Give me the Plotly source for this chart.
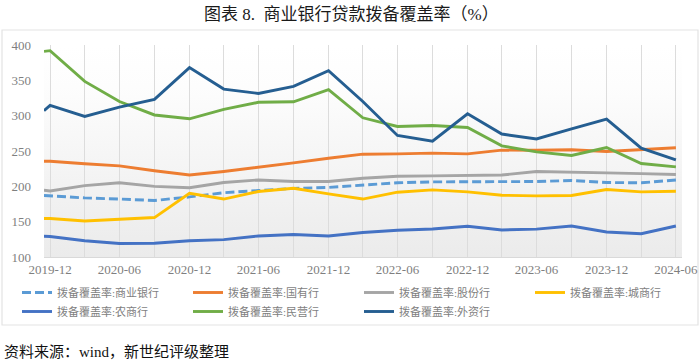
import base64
import plotly.graph_objects as go

dates = ["2019-12-15", "2019-12-31", "2020-03-31", "2020-06-30", "2020-09-30", "2020-12-31",
         "2021-03-31", "2021-06-30", "2021-09-30", "2021-12-31", "2022-03-31", "2022-06-30",
         "2022-09-30", "2022-12-31", "2023-03-31", "2023-06-30", "2023-09-30", "2023-12-31",
         "2024-03-31", "2024-06-30"]

s_commercial = [187, 186.5, 183.6, 182, 180, 185, 191, 194, 197, 198.5, 202, 205, 206.3, 206.3, 205.8, 206.8, 208.2, 205.4, 205, 209]
s_state = [235.6, 235.5, 232, 229, 222, 216, 221, 226.6, 233.2, 239.8, 245.5, 246, 247, 246, 251.2, 251, 251.7, 249.3, 251.7, 254.5]
s_joint = [194.5, 193.5, 201, 205, 200, 198, 205.4, 209, 206.8, 206.8, 211.5, 214.3, 214.8, 215.3, 216, 221, 219.5, 219, 218, 216.7]
s_city = [154.4, 154.4, 151, 153.4, 155.8, 190, 182, 192.6, 197.3, 189.3, 182, 191.7, 195, 192.1, 187.4, 186.5, 187, 195.5, 192.1, 193]
s_rural = [129.3, 129, 123, 119, 119.4, 123, 124.6, 129.8, 131.8, 129.8, 134.6, 137.8, 139.7, 143.5, 138.3, 139.5, 143.9, 135.4, 133, 143.9]
s_private = [391, 392, 348.5, 320, 301, 295.6, 309, 319, 319.7, 336.7, 297, 284.7, 286, 283.3, 257.3, 248.8, 243.6, 255, 232.3, 227.6]
s_foreign = [307, 314.5, 299, 312, 323, 368, 337.6, 331.5, 341.5, 363.6, 320, 272, 264, 302.7, 274, 267, 281.4, 295, 254, 237.5]

names = ["拨备覆盖率:商业银行", "拨备覆盖率:国有行", "拨备覆盖率:股份行", "拨备覆盖率:城商行",
         "拨备覆盖率:农商行", "拨备覆盖率:民营行", "拨备覆盖率:外资行"]
series = [s_commercial, s_state, s_joint, s_city, s_rural, s_private, s_foreign]
colors = ["#5B9BD5", "#ED7D31", "#A5A5A5", "#FFC000", "#4472C4", "#70AD47", "#255E91"]
dashes = ["9px,4px", "solid", "solid", "solid", "solid", "solid", "solid"]

tick_dates = dates[1:]
tick_labels = ["2019-12", "", "2020-06", "", "2020-12", "", "2021-06", "", "2021-12", "",
               "2022-06", "", "2022-12", "", "2023-06", "", "2023-12", "", "2024-06"]
y_ticks = [100, 150, 200, 250, 300, 350, 400]

title_text = "图表 8.  商业银行贷款拨备覆盖率（%）"
source_text = "资料来源：wind，新世纪评级整理"

fig = go.Figure()
for name, vals, col, dsh in zip(names, series, colors, dashes):
    fig.add_trace(go.Scatter(x=dates, y=vals, name=name, mode="lines",
                             line=dict(color=col, width=2.9, dash=dsh)))

W, H = 700, 361
ml, mr, mt, mb = 44, 18, 45, 104
pw, ph = W - ml - mr, H - mt - mb

def px(x):
    return (x - ml) / pw

def py(y):
    return (H - mb - y) / ph

svg = ('<svg xmlns="http://www.w3.org/2000/svg" width="10" height="100" viewBox="0 0 10 100" '
       'preserveAspectRatio="none"><defs><linearGradient id="g" x1="0" y1="0" x2="0" y2="1">'
       '<stop offset="0" stop-color="#ffffff"/><stop offset="0.2" stop-color="#fdfdfd"/>'
       '<stop offset="1" stop-color="#ebebeb"/></linearGradient></defs>'
       '<rect width="10" height="100" fill="url(#g)"/></svg>')
src = "data:image/svg+xml;base64," + base64.b64encode(svg.encode()).decode()

serif = "Liberation Serif, Noto Sans CJK SC"

fig.update_layout(
    width=W, height=H,
    margin=dict(l=ml, r=mr, t=mt, b=mb, autoexpand=False),
    paper_bgcolor="white",
    plot_bgcolor="rgba(0,0,0,0)",
    showlegend=True,
    images=[dict(source=src, xref="x domain", yref="y domain", x=0, y=1, sizex=1, sizey=1,
                 xanchor="left", yanchor="top", sizing="stretch", layer="below")],
    shapes=[dict(type="rect", xref="paper", yref="paper", x0=px(2), x1=px(698), y0=py(325), y1=py(30),
                 line=dict(color="#e3e3e3", width=1.2), fillcolor="rgba(0,0,0,0)", layer="below")],
    annotations=[
        dict(text=title_text, xref="paper", yref="paper", x=px(351), y=py(14), xanchor="center",
             yanchor="middle", showarrow=False, font=dict(family=serif, size=17, color="#1a1a1a")),
        dict(text=source_text, xref="paper", yref="paper", x=px(2), y=py(352), xanchor="left",
             yanchor="middle", showarrow=False, font=dict(family=serif, size=15, color="#111111")),
    ],
    legend=dict(orientation="h", x=px(17), y=py(278), xanchor="left", yanchor="top",
                font=dict(family=serif, size=11, color="#7f7f7f"),
                entrywidth=126, entrywidthmode="pixels", itemwidth=30, tracegroupgap=0,
                bgcolor="rgba(0,0,0,0)"),
    xaxis=dict(type="date", range=["2019-12-15", "2024-07-16"], tickmode="array",
               tickvals=tick_dates, ticktext=tick_labels, showgrid=True, gridcolor="#dcdcdc",
               gridwidth=1, showline=True, linecolor="#d9d9d9", ticks="", zeroline=False,
               tickfont=dict(family=serif, size=13, color="#7f7f7f")),
    yaxis=dict(range=[100, 400], tickmode="array", tickvals=y_ticks, showgrid=False,
               showline=False, zeroline=False, ticks="", ticklabelstandoff=12,
               tickfont=dict(family=serif, size=13, color="#7f7f7f")),
)

fig.write_html("out.html", config={"displayModeBar": False},
               post_script="document.body.style.margin='0px';")
